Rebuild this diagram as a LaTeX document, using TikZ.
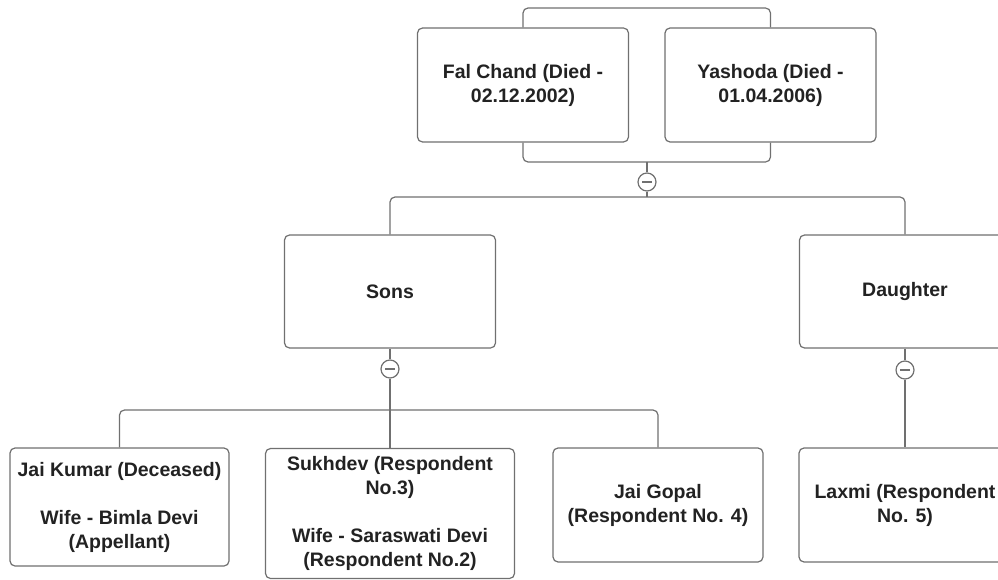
\documentclass[tikz,border=0pt]{standalone}
\usepackage{fontspec}
\setmainfont{Liberation Sans}
\definecolor{txt}{HTML}{222222}
\definecolor{ln}{HTML}{707070}
\begin{document}
\begin{tikzpicture}[x=1pt,y=-1pt,
  box/.style={draw=ln,line width=1.2pt,rounded corners=5pt,fill=white,align=center,text=txt,
    font=\fontsize{19.5}{24}\selectfont\bfseries,inner sep=0pt},
  conn/.style={draw=ln,line width=1.2pt},
  minus/.style={circle,draw=ln,line width=1.2pt,fill=white,minimum size=18pt,inner sep=0pt,
    path picture={\draw[ln,line width=1.4pt] ([xshift=-5pt]path picture bounding box.center) -- ([xshift=5pt]path picture bounding box.center);}}]
\useasboundingbox (0,0) rectangle (998,580);
\clip (0,0) rectangle (998,580);
% top couple
\node[box,minimum width=211pt,minimum height=114pt] (fal) at (523,85) {Fal Chand (Died -\\02.12.2002)};
\node[box,minimum width=211pt,minimum height=114pt] (yas) at (770.5,85) {Yashoda (Died -\\01.04.2006)};
\coordinate (topl) at (523,8);
\coordinate (botl) at (523,162);
\coordinate (mid) at (647,162);
\draw[conn,rounded corners=5pt] (fal.north) |- (topl -| yas.north) -- (yas.north);
\draw[conn,rounded corners=5pt] (fal.south) |- (botl -| yas.south) -- (yas.south);
% second level
\node[box,minimum width=211pt,minimum height=113pt] (sons) at (390,291.5) {Sons};
\node[box,minimum width=211pt,minimum height=113pt] (dau) at (905,291.5) {Daughter};
\node[minus] (c1) at (647,182) {};
\coordinate (j1) at (647,197);
\draw[conn] (mid) -- (c1.north);
\draw[conn] (c1.south) -- (j1);
\draw[conn,rounded corners=5pt] (sons.north) |- (j1) -| (dau.north);
% third level
\node[box,minimum width=219pt,minimum height=118pt] (jk) at (119.5,507) {Jai Kumar (Deceased)\\[24pt]Wife - Bimla Devi\\(Appellant)};
\node[box,minimum width=249pt,minimum height=130pt] (sk) at (390,513.5) {Sukhdev (Respondent\\No.3)\\[24pt]Wife - Saraswati Devi\\(Respondent No.2)};
\node[box,minimum width=210pt,minimum height=114pt] (jg) at (658,505) {Jai Gopal\\(Respondent No. 4)};
\node[box,minimum width=212pt,minimum height=114pt] (lax) at (905,505) {Laxmi (Respondent\\No. 5)};
\node[minus] (c2) at (390,369) {};
\coordinate (j2) at (390,410);
\draw[conn] (sons.south) -- (c2.north);
\draw[conn] (c2.south) -- (j2);
\draw[conn,rounded corners=5pt] (jk.north) |- (j2) -| (jg.north);
\draw[conn] (j2) -- (sk.north);
\node[minus] (c3) at (905,370) {};
\draw[conn] (dau.south) -- (c3.north);
\draw[conn] (c3.south) -- (lax.north);
\end{tikzpicture}
\end{document}
